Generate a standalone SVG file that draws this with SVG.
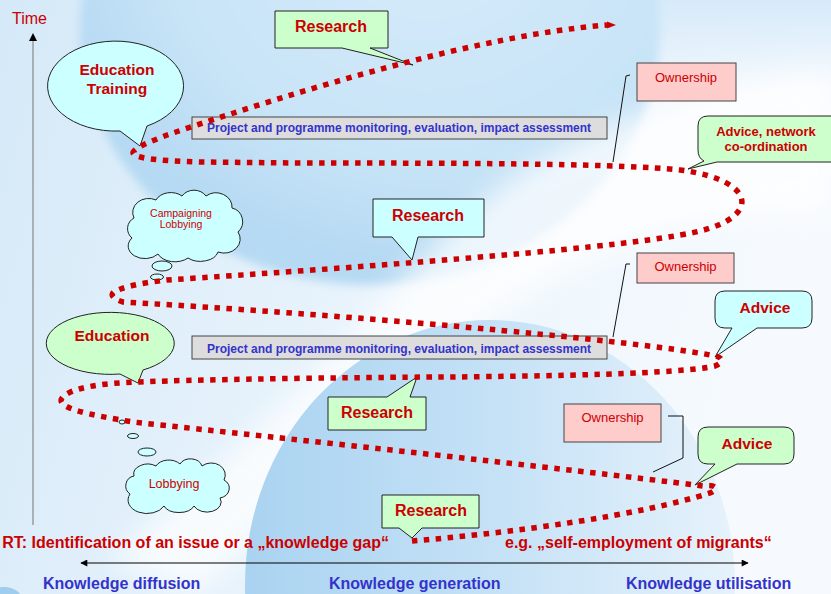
<svg xmlns="http://www.w3.org/2000/svg" width="831" height="594" viewBox="0 0 831 594">
<style>
.t{font-family:"Liberation Sans",Arial,sans-serif}
.red{fill:#CC0000}
.blue{fill:#3333CC}
.b{font-weight:bold}
.box{stroke:#222;stroke-width:1}
.green{fill:#CCFFCC}
.cyan{fill:#CCFFFF}
.pink{fill:#FFCCCC;stroke:#444;stroke-width:1}
.grey{fill:#DDDDDD;stroke:#444;stroke-width:1}
.lead{fill:none;stroke:#111;stroke-width:1}
.spiral{fill:none;stroke:#CC0000;stroke-width:5.5;stroke-dasharray:5.5 6.5}
</style>
<defs>
<linearGradient id="bg" x1="0" y1="0" x2="1" y2="0.2">
<stop offset="0" stop-color="#D5E9F8"/>
<stop offset="0.55" stop-color="#EAF4FC"/>
<stop offset="1" stop-color="#F6FAFE"/>
</linearGradient>
<radialGradient id="g1" cx="0.6" cy="0.3" r="0.65">
<stop offset="0" stop-color="#D6EBFA"/>
<stop offset="0.7" stop-color="#C8E4F7"/>
<stop offset="1" stop-color="#B6DAF3"/>
</radialGradient>
<linearGradient id="g2" x1="0" y1="0" x2="1" y2="0">
<stop offset="0" stop-color="#AAD3F1"/>
<stop offset="0.5" stop-color="#C4E1F6"/>
<stop offset="1" stop-color="#E6F2FB"/>
</linearGradient>
<linearGradient id="tr" x1="0" y1="0" x2="0" y2="1">
<stop offset="0" stop-color="#D6EAF9"/>
<stop offset="1" stop-color="#D6EAF9" stop-opacity="0"/>
</linearGradient>
<filter id="blur" x="-20%" y="-20%" width="140%" height="140%"><feGaussianBlur stdDeviation="14"/></filter>
<filter id="soft" x="-10%" y="-10%" width="120%" height="120%"><feGaussianBlur stdDeviation="5"/></filter>
<marker id="ah" viewBox="0 0 10 10" refX="9" refY="5" markerWidth="8" markerHeight="7" markerUnits="userSpaceOnUse" orient="auto-start-reverse">
<path d="M0,0 L10,5 L0,10 Z" fill="#000"/>
</marker>
</defs>

<g id="background">
<rect x="0" y="0" width="831" height="594" fill="url(#bg)"/>
<rect x="600" y="0" width="231" height="90" fill="url(#tr)"/>
<ellipse cx="370" cy="30" rx="290" ry="255" fill="url(#g1)" filter="url(#soft)"/>
<path d="M831,70 Q560,100 420,260 Q300,400 110,560 L200,594 Q330,460 480,330 Q640,210 831,210 Z" fill="#FFFFFF" opacity="0.75" filter="url(#blur)"/>
<ellipse cx="490" cy="585" rx="245" ry="265" fill="url(#g2)"/>
<ellipse cx="4" cy="600" rx="18" ry="13" fill="#9ECDEE"/>
</g>

<g id="time-axis">
<line x1="33" y1="40" x2="33" y2="525" stroke="#888" stroke-width="1.2"/>
<path d="M33,33 L37,41 L29,41 Z" fill="#000"/>
<text class="t red" x="12" y="24" font-size="16">Time</text>
</g>

<g id="education-training">
<path class="box cyan" d="M147,126 A68,45 0 1 0 120,131 L140,146 Z"/>
<text class="t red b" font-size="15.5" text-anchor="middle" x="117" y="75">Education</text>
<text class="t red b" font-size="15.5" text-anchor="middle" x="117" y="94">Training</text>
</g>

<g id="research-1">
<path class="box green" d="M275,11 H388 V48 H370 L413,65 L342,48 H275 Z"/>
<text class="t red b" font-size="16" text-anchor="middle" x="331" y="32">Research</text>
</g>

<g id="monitoring-1">
<rect class="grey" x="192" y="117" width="415" height="22"/>
<text class="t blue b" font-size="12" x="207" y="132">Project and programme monitoring, evaluation, impact assessment</text>
</g>

<g id="ownership-1">
<rect class="pink" x="637" y="63" width="99" height="38"/>
<text class="t red" font-size="13" text-anchor="middle" x="686" y="82">Ownership</text>
</g>

<g id="advice-network">
<path class="box green" d="M708,116 H840 V162 H717 L688,169 L704,161 Q698,158 698,150 V126 Q698,116 708,116 Z"/>
<text class="t red b" font-size="13" text-anchor="middle" x="766" y="136">Advice, network</text>
<text class="t red b" font-size="13" text-anchor="middle" x="766" y="151">co-ordination</text>
</g>

<g id="campaigning-lobbying">
<path class="box cyan" d="M132,238 a12,12 0 0 1 2,-20 a16,14 0 0 1 22,-18 a16,12 0 0 1 26,-4 a14,12 0 0 1 24,0 a16,14 0 0 1 26,12 a14,14 0 0 1 6,24 a16,14 0 0 1 -20,20 a18,12 0 0 1 -30,6 a18,12 0 0 1 -30,-4 a16,12 0 0 1 -26,-16 Z"/>
<ellipse class="box cyan" cx="162" cy="266" rx="10" ry="5"/>
<ellipse class="box cyan" cx="157" cy="277" rx="6.5" ry="3"/>
<text class="t red" font-size="10.5" text-anchor="middle" x="181" y="217">Campaigning</text>
<text class="t red" font-size="10.5" text-anchor="middle" x="181" y="228">Lobbying</text>
</g>

<g id="research-2">
<path class="box cyan" d="M373,199 H484 V237 H418 L412,260 L392,237 H373 Z"/>
<text class="t red b" font-size="16" text-anchor="middle" x="428" y="221">Research</text>
</g>

<g id="ownership-2">
<rect class="pink" x="637" y="253" width="97" height="30"/>
<text class="t red" font-size="13" text-anchor="middle" x="685.5" y="271">Ownership</text>
</g>

<g id="advice-1">
<path class="box cyan" d="M725,291 H802 Q812,291 812,301 V318 Q812,328 802,328 H757 L715,357 L732,328 H725 Q715,328 715,318 V301 Q715,291 725,291 Z"/>
<text class="t red b" font-size="15.5" text-anchor="middle" x="765" y="313">Advice</text>
</g>

<g id="monitoring-2">
<rect class="grey" x="192" y="336" width="415" height="23"/>
<text class="t blue b" font-size="12" x="207" y="353">Project and programme monitoring, evaluation, impact assessment</text>
</g>

<g id="education">
<path class="box green" d="M143,370 A64,31 0 1 0 120,374 L138,383 Z"/>
<text class="t red b" font-size="15.5" text-anchor="middle" x="112" y="341">Education</text>
</g>

<g id="research-3">
<path class="box green" d="M328,397 H387 L417,377 L410,397 H426 V430 H328 Z"/>
<text class="t red b" font-size="16" text-anchor="middle" x="377" y="418">Research</text>
</g>

<g id="lobbying">
<ellipse class="box cyan" cx="122" cy="422" rx="3" ry="2"/>
<ellipse class="box cyan" cx="133" cy="436" rx="5.5" ry="2.5"/>
<ellipse class="box cyan" cx="147" cy="452" rx="9" ry="4"/>
<path class="box cyan" d="M130,494 a10,10 0 0 1 4,-18 a14,10 0 0 1 22,-10 a14,10 0 0 1 24,-2 a12,10 0 0 1 22,2 a14,12 0 0 1 22,14 a12,10 0 0 1 -4,18 a14,10 0 0 1 -26,8 a16,10 0 0 1 -30,0 a14,10 0 0 1 -34,-12 Z"/>
<text class="t red" font-size="12.5" text-anchor="middle" x="174" y="488">Lobbying</text>
</g>

<g id="ownership-3">
<rect class="pink" x="564" y="404" width="97" height="38"/>
<text class="t red" font-size="13" text-anchor="middle" x="612.5" y="422">Ownership</text>
</g>

<g id="advice-2">
<path class="box green" d="M708,427 H784 Q794,427 794,437 V454 Q794,464 784,464 H737 L695,485 L715,464 H708 Q698,464 698,454 V437 Q698,427 708,427 Z"/>
<text class="t red b" font-size="15.5" text-anchor="middle" x="747" y="449">Advice</text>
</g>

<g id="research-4">
<path class="box green" d="M382,495 H479 V528 H422 L412,538 L399,528 H382 Z"/>
<text class="t red b" font-size="16" text-anchor="middle" x="431" y="516">Research</text>
</g>

<g id="start-label">
<text class="t red b" font-size="16" text-anchor="end" x="389" y="548">RT: Identification of an issue or a „knowledge gap“</text>
<text class="t red b" font-size="16" x="505" y="548">e.g. „self-employment of migrants“</text>
</g>

<g id="knowledge-axis">
<line x1="81" y1="563" x2="748" y2="563" stroke="#000" stroke-width="1.2" marker-start="url(#ah)" marker-end="url(#ah)"/>
<text class="t blue b" font-size="16" x="43" y="589">Knowledge diffusion</text>
<text class="t blue b" font-size="16" x="329" y="589">Knowledge generation</text>
<text class="t blue b" font-size="16" x="626" y="589">Knowledge utilisation</text>
</g>

<g id="connectors">
<polyline class="lead" points="630,75 626,76 613,162"/>
<polyline class="lead" points="630,264 626,264 613,337"/>
<polyline class="lead" points="668,416 683,416 683,458 653,472"/>
<path class="spiral" d="M412,541 C520,532 640,515 710,493 C720,489 716,484 703,486 C560,468 300,440 133,422 C90,415 55,408 62,398 C70,388 100,383 140,382 C200,379 400,377 450,377 C550,376 680,374 715,366 C725,362 722,357 715,356 C660,344 400,318 123,302 C112,299 108,293 118,290 C130,285 150,282 167,280 C350,268 600,250 680,235 C765,222 760,180 680,170 C620,164 500,163 300,163 L200,162 C160,161 127,158 134,151 C140,145 155,140 167,135 C300,90 480,35 607,25"/>
<path d="M607,21.5 L616,25 L607,28.5 Z" fill="#CC0000"/>
</g>
</svg>
